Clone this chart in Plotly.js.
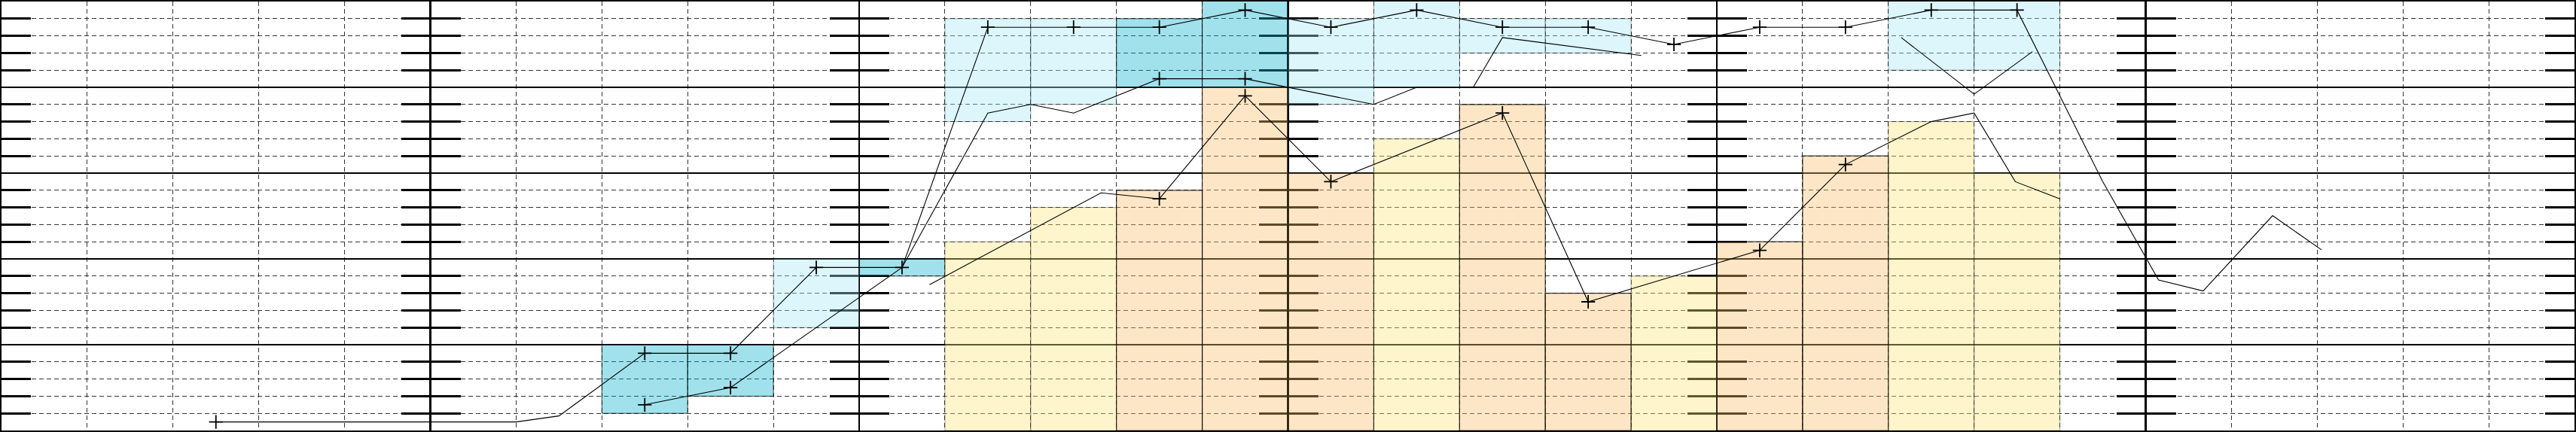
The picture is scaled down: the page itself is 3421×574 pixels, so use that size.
<!DOCTYPE html>
<html>
<head>
<meta charset="utf-8">
<script src="https://cdn.plot.ly/plotly-3.0.1.min.js"></script>
<style>html,body{margin:0;padding:0;background:#fff;}#chart{width:3421px;height:574px;}</style>
</head>
<body>
<div id="chart"></div>
<script>
// ---- bars (x = bar centre, values in axis units) ----
const yellowX   = [11.5, 12.5, 16.5, 19.5, 22.5, 23.5];
const yellowTop = [11, 13, 17, 9, 18, 15];

const orangeX   = [13.5, 14.5, 15.5, 17.5, 18.5, 20.5, 21.5];
const orangeTop = [14, 20, 15, 19, 8, 11, 16];

const darkCyanX    = [7.5, 8.5, 10.5, 13.5, 14.5];
const darkCyanLow  = [1, 2, 9, 20, 20];
const darkCyanHigh = [5, 5, 10, 24, 26];

const lightCyanX    = [9.5, 11.5, 12.5, 15.5, 16.5, 17.5, 18.5, 22.5, 23.5];
const lightCyanLow  = [6, 18, 19, 19, 20, 22, 22, 21, 21];
const lightCyanHigh = [10, 24, 24, 24, 26, 24, 24, 26, 26];

// ---- lines ----
const upperX = [2.5, 6.0, 6.5, 7.5, 8.5, 9.5, 10.5, 11.5, 12.5, 13.5, 14.5, 15.5, 16.5, 17.5, 18.5, 19.5, 20.5, 21.5, 22.5, 23.5, 24.5, 25.15, 25.67, 26.48, 27.05];
const upperY = [0.5, 0.5, 0.85, 4.5, 4.5, 9.5, 9.5, 23.5, 23.5, 23.5, 24.5, 23.5, 24.5, 23.5, 23.5, 22.5, 23.5, 23.5, 24.5, 24.5, 14.5, 8.77, 8.13, 12.52, 10.53];
const upperMarkX = [2.5, 7.5, 8.5, 9.5, 10.5, 11.5, 12.5, 13.5, 14.5, 15.5, 16.5, 17.5, 18.5, 19.5, 20.5, 21.5, 22.5, 23.5];
const upperMarkY = [0.5, 4.5, 4.5, 9.5, 9.5, 23.5, 23.5, 23.5, 24.5, 23.5, 24.5, 23.5, 23.5, 22.5, 23.5, 23.5, 24.5, 24.5];

const lowerX = [7.5, 8.5, 10.5, 11.5, 12.0, 12.5, 13.5, 14.5, 16.0, 16.5, 17.16, 17.5, 19.12];
const lowerY = [1.5, 2.5, 9.5, 18.5, 19.0, 18.5, 20.5, 20.5, 19.0, 20.0, 20.0, 22.9, 21.85];
const lowerMarkX = [7.5, 8.5, 13.5, 14.5];
const lowerMarkY = [1.5, 2.5, 20.5, 20.5];

const midX = [10.82, 12.82, 13.5, 14.5, 15.5, 17.5, 18.5, 20.5, 21.5, 22.5, 23.0, 23.48, 24.0];
const midY = [8.5, 13.85, 13.5, 19.5, 14.5, 18.5, 7.5, 10.5, 15.5, 18.0, 18.5, 14.5, 13.5];
const midMarkX = [13.5, 14.5, 15.5, 17.5, 18.5, 20.5, 21.5];
const midMarkY = [13.5, 19.5, 14.5, 18.5, 7.5, 10.5, 15.5];

const vX = [22.15, 23.0, 23.68];
const vY = [22.9, 19.6, 22.08];

// axis settings
const xRange = [0, 30], yRange = [0, 25];
const majorStep = 5, minorStep = 1;
const boundaries = [5, 10, 15, 20, 25];

const diff = (hi, lo) => hi.map((v, i) => v - lo[i]);

const lineStyle = {color: '#000', width: 1.1};
const markStyle = {symbol: 'cross-thin', size: 13, line: {color: '#000', width: 1.8}};

const traces = [
  {type: 'bar', x: lightCyanX, y: diff(lightCyanHigh, lightCyanLow), base: lightCyanLow, width: 1,
   marker: {color: 'rgba(163,231,247,0.38)', line: {color: 'rgba(0,0,0,0.35)', width: 1}}, hoverinfo: 'skip'},
  {type: 'bar', x: darkCyanX, y: diff(darkCyanHigh, darkCyanLow), base: darkCyanLow, width: 1,
   marker: {color: 'rgba(5,176,205,0.38)', line: {color: 'rgba(0,0,0,0.7)', width: 1}}, hoverinfo: 'skip'},
  {type: 'bar', x: yellowX, y: yellowTop, width: 1,
   marker: {color: 'rgba(255,229,121,0.38)', line: {color: 'rgba(0,0,0,0.35)', width: 1}}, hoverinfo: 'skip'},
  {type: 'bar', x: orangeX, y: orangeTop, width: 1,
   marker: {color: 'rgba(250,189,105,0.38)', line: {color: 'rgba(0,0,0,0.75)', width: 1.2}}, hoverinfo: 'skip'},
  {type: 'scatter', mode: 'lines', x: upperX, y: upperY, line: lineStyle, hoverinfo: 'skip'},
  {type: 'scatter', mode: 'lines', x: lowerX, y: lowerY, line: lineStyle, hoverinfo: 'skip'},
  {type: 'scatter', mode: 'lines', x: midX, y: midY, line: lineStyle, hoverinfo: 'skip'},
  {type: 'scatter', mode: 'lines', x: vX, y: vY, line: lineStyle, hoverinfo: 'skip'},
  {type: 'scatter', mode: 'markers', x: upperMarkX, y: upperMarkY, marker: markStyle, hoverinfo: 'skip'},
  {type: 'scatter', mode: 'markers', x: lowerMarkX, y: lowerMarkY, marker: markStyle, hoverinfo: 'skip'},
  {type: 'scatter', mode: 'markers', x: midMarkX, y: midMarkY, marker: markStyle, hoverinfo: 'skip'}
];

const minorGrid = {dtick: minorStep, showgrid: true, gridcolor: '#333', gridwidth: 1.1, griddash: '6px,4px'};

const layout = {
  width: 3421, height: 574,
  margin: {l: 2, r: 2, t: 2, b: 2, pad: 0},
  paper_bgcolor: '#fff', plot_bgcolor: '#fff',
  showlegend: false, barmode: 'overlay',
  xaxis: {
    range: xRange, dtick: majorStep, tick0: 0, showticklabels: false, ticks: '',
    showgrid: true, gridcolor: '#000', gridwidth: 2.2, zeroline: false,
    minor: Object.assign({ticks: ''}, minorGrid),
    showline: true, mirror: true, linecolor: '#000', linewidth: 2.5, layer: 'below traces'
  },
  yaxis: {
    range: yRange, dtick: majorStep, tick0: 0, showticklabels: false, ticks: '',
    showgrid: true, gridcolor: '#000', gridwidth: 1.6, zeroline: false,
    minor: Object.assign({ticks: 'inside', ticklen: 39, tickwidth: 2.8, tickcolor: '#000'}, minorGrid),
    showline: true, mirror: 'ticks', linecolor: '#000', linewidth: 2.5, layer: 'below traces'
  }
};

// extra y axes at the interior boundaries carry ticks on both sides;
// each gets an empty trace so that Plotly draws it
let n = 2;
boundaries.forEach(b => {
  const pos = (b - xRange[0]) / (xRange[1] - xRange[0]);
  ['left', 'right'].forEach(side => {
    layout['yaxis' + n] = {
      overlaying: 'y', anchor: 'free', position: pos, side: side,
      range: yRange, dtick: majorStep, tick0: 0, showticklabels: false, ticks: '',
      showgrid: false, zeroline: false, showline: false, layer: 'below traces',
      minor: {dtick: minorStep, ticks: 'outside', ticklen: 39, tickwidth: 2.8, tickcolor: '#000', showgrid: false}
    };
    traces.unshift({type: 'scatter', mode: 'lines', x: [], y: [], yaxis: 'y' + n, hoverinfo: 'skip'});
    n++;
  });
});

Plotly.newPlot('chart', traces, layout, {staticPlot: true, displayModeBar: false});
</script>
</body>
</html>
